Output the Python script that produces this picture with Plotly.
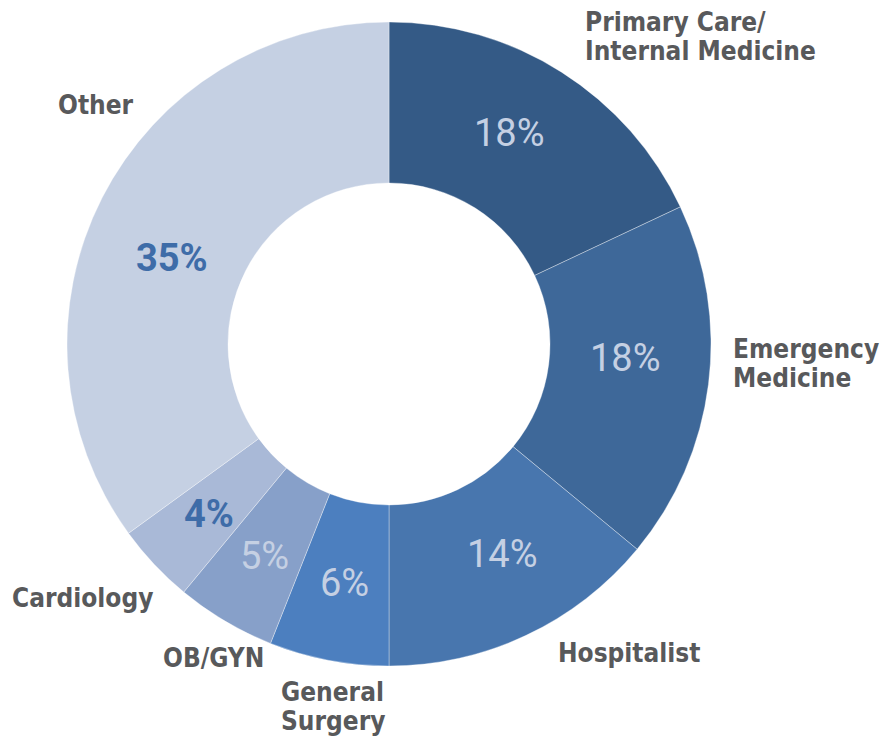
import math
import plotly.graph_objects as go

# datos del gráfico
specialties = ["Primary Care/<br>Internal Medicine", "Emergency<br>Medicine", "Hospitalist",
               "General<br>Surgery", "OB/GYN", "Cardiology", "Other"]
shares = [18, 18, 14, 6, 5, 4, 35]
pct_labels = ["18%", "18%", "14%", "6%", "5%", "4%", "35%"]

colors = ["#345a86", "#3e6899", "#4876ae", "#4c7fbf", "#87a0c9", "#a9b9d7", "#c5d0e3"]
pct_colors = ["#c5d0e3", "#c5d0e3", "#c5d0e3", "#c5d0e3", "#c5d0e3", "#3e6ca8", "#3e6ca8"]
pct_bold = [False, False, False, False, False, True, True]

W, H = 887, 741
CX, CY, R = 389, 344, 322          # centro y radio del anillo en píxeles
# ajuste angular (grados) y radial de cada porcentaje respecto al ángulo medio
pct_nudge = [-2.7, -3.8, -3.2, -0.2, -0.2, -0.2, -5.4]
pct_radius = [0.755, 0.735, 0.74, 0.755, 0.765, 0.77, 0.725]
# posición (px) del centro de la primera línea de cada etiqueta externa
label_px = [(583, 22), (731, 349), (556, 653), (279, 692), (161, 658), (10, 598), (56, 105)]
LINE = 29

LABEL_FONT = "DejaVu Sans Condensed, Roboto, sans-serif"
PCT_FONT = "Roboto, DejaVu Sans Condensed, sans-serif"

fig = go.Figure(go.Pie(
    labels=specialties,
    values=shares,
    textinfo="none",
    hole=0.5,
    sort=False,
    direction="clockwise",
    rotation=0,
    marker=dict(colors=colors, line=dict(color="rgba(255,255,255,0.35)", width=1)),
    domain=dict(x=[(CX - R) / W, (CX + R) / W], y=[1 - (CY + R) / H, 1 - (CY - R) / H]),
    showlegend=False,
    hoverinfo="label+percent",
))

# porcentajes dentro del anillo, cerca del ángulo medio de cada porción
total = sum(shares)
acc = 0
for val, txt, col, bold, nd, rf in zip(shares, pct_labels, pct_colors, pct_bold,
                                        pct_nudge, pct_radius):
    mid = (acc + val / 2) / total * 2 * math.pi + math.radians(nd)
    acc += val
    r = rf * R
    x = CX + r * math.sin(mid)
    y = CY - r * math.cos(mid)
    fig.add_annotation(
        x=x / W, y=1 - y / H, xref="paper", yref="paper",
        text=f"<b>{txt}</b>" if bold else txt, showarrow=False,
        xanchor="center", yanchor="middle",
        font=dict(family=PCT_FONT, size=38, color=col),
    )

# etiquetas externas, una anotación por línea
for name, (lx, ly) in zip(specialties, label_px):
    for i, line in enumerate(name.split("<br>")):
        fig.add_annotation(
            x=lx / W, y=1 - (ly + i * LINE) / H, xref="paper", yref="paper",
            text="<b>" + line + "</b>", showarrow=False,
            xanchor="left", yanchor="middle", align="left",
            font=dict(family=LABEL_FONT, size=26, color="#58595b"),
        )

fig.update_layout(
    width=W, height=H,
    margin=dict(l=0, r=0, t=0, b=0),
    paper_bgcolor="white",
    plot_bgcolor="white",
)

fig.write_html("out.html", config={"displayModeBar": False},
               post_script="document.body.style.margin='0';")
